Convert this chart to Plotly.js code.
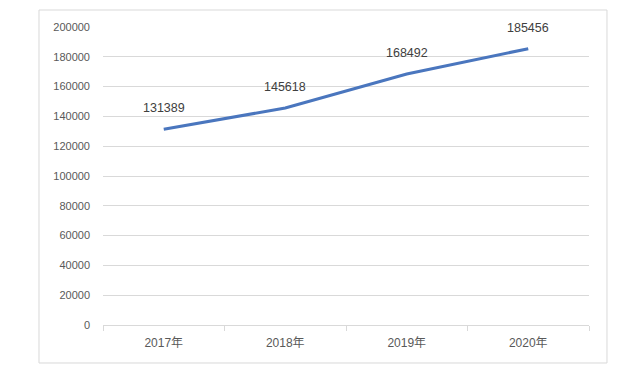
<!DOCTYPE html>
<html><head><meta charset="utf-8">
<script src="https://cdn.plot.ly/plotly-3.0.1.min.js"></script>
<style>html,body{margin:0;padding:0;background:#fff}#c{width:644px;height:377px}</style>
</head><body><div id="c"></div>
<script>
const categories = ['2017年','2018年','2019年','2020年'];
const values = [131389, 145618, 168492, 185456];
const yTicks = [0,20000,40000,60000,80000,100000,120000,140000,160000,180000,200000];

const font = '"Liberation Sans","Noto Sans CJK SC",sans-serif';
const trace = {
  x: categories, y: values, type: 'scatter', mode: 'lines',
  line: {color: '#4A76BE', width: 3}, hoverinfo: 'skip'
};
const annotations = categories.map((c, i) => ({
  x: c, y: values[i], xref: 'x', yref: 'y', text: String(values[i]),
  showarrow: false, yshift: 21, font: {family: font, size: 12.5, color: '#404040'}
}));
const layout = {
  width: 644, height: 377,
  margin: {l: 103, r: 55, t: 27, b: 52},
  paper_bgcolor: '#fff', plot_bgcolor: '#fff',
  showlegend: false,
  xaxis: {
    type: 'category', range: [-0.5, 3.5], tickson: 'boundaries',
    ticks: 'outside', ticklen: 5, tickcolor: '#d9d9d9',
    showgrid: false, showline: true, linecolor: '#d9d9d9', linewidth: 1,
    ticklabelstandoff: 7,
    tickfont: {family: font, size: 12, color: '#595959'}, zeroline: false, fixedrange: true
  },
  yaxis: {
    range: [0, 200000], tickvals: yTicks, ticktext: yTicks.map(String),
    showgrid: true, gridcolor: '#d9d9d9', gridwidth: 1, zeroline: false,
    showline: false, ticks: '', ticklabelstandoff: 12,
    tickfont: {family: font, size: 11, color: '#595959'}, fixedrange: true
  },
  annotations: annotations,
  shapes: [{type: 'rect', xref: 'paper', yref: 'paper',
    x0: -0.1317, x1: 1.037, y0: -0.1275, y1: 1.057,
    line: {color: '#d9d9d9', width: 1}, fillcolor: 'rgba(0,0,0,0)'}]
};
Plotly.newPlot('c', [trace], layout, {displayModeBar: false, staticPlot: true});
</script></body></html>
